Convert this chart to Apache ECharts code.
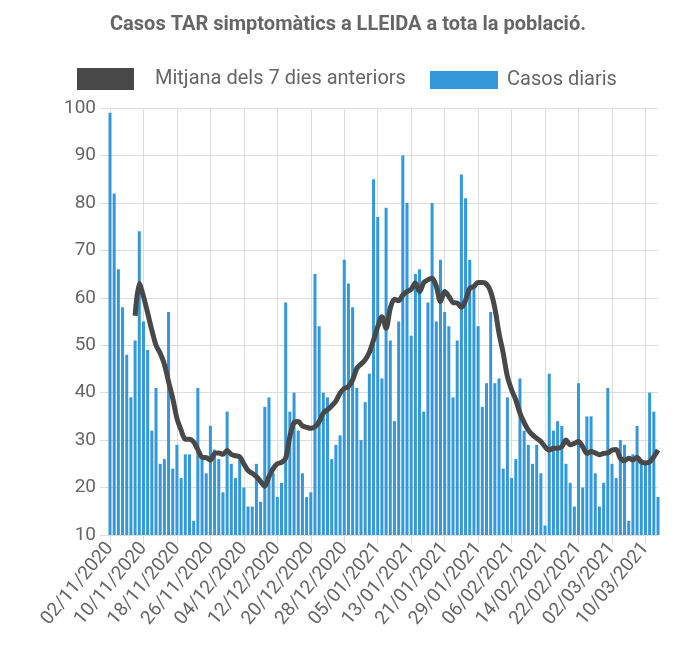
<!DOCTYPE html>
<html>
<head>
<meta charset="utf-8">
<script src="https://cdn.jsdelivr.net/npm/echarts@6/dist/echarts.min.js"></script>
<style>
html, body { margin: 0; padding: 0; background: #fff; }
#chart { width: 696px; height: 669px; }
</style>
</head>
<body>
<div id="chart"></div>
<script>
// primer dia de la serie i nombre de dies
const firstDay = '2020-11-02'
const dayCount = 132

// casos diaris (llegits del grafic)
const casosDiaris = [
  99, 82, 66, 58, 48, 39, 51, 74, 55, 49, 32, 41, 25, 26, 57, 24, 29, 22, 27, 27,
  13, 41, 26, 23, 33, 28, 26, 19, 36, 25, 22, 26, 20, 16, 16, 25, 17, 37, 39, 23,
  18, 21, 59, 36, 40, 32, 23, 18, 19, 65, 54, 40, 39, 26, 29, 31, 68, 63, 58, 41,
  30, 38, 44, 85, 77, 43, 79, 51, 34, 55, 90, 80, 52, 65, 66, 36, 59, 80, 55, 68,
  57, 54, 39, 51, 86, 81, 68, 62, 54, 37, 42, 57, 42, 43, 24, 39, 22, 26, 43, 32,
  29, 25, 29, 23, 12, 44, 32, 34, 33, 25, 21, 16, 42, 20, 35, 35, 23, 16, 21, 41,
  25, 22, 30, 29, 13, 27, 33, 26, 25, 40, 36, 18,
]

// mitjana dels 7 dies anteriors (llegida del grafic)
const mitjana7 = [
  null, null, null, null, null, null, 56.2, 63.0, 60.3, 56.8, 53.2, 50.0, 48.3, 46.0,
  42.3, 38.8, 34.6, 32.1, 30.2, 30.2, 29.6, 28.0, 26.4, 26.3, 25.8, 27.2, 27.3, 27.0,
  27.8, 27.0, 26.7, 26.5, 25.0, 23.6, 23.0, 22.3, 21.3, 20.3, 22.3, 24.0, 25.0, 25.3,
  26.2, 30.8, 33.7, 33.9, 33.0, 32.7, 32.5, 32.8, 33.9, 35.7, 36.4, 37.2, 38.2, 39.9,
  40.9, 41.3, 42.7, 45.1, 46.0, 46.9, 48.5, 51.1, 53.9, 56.0, 53.6, 57.8, 59.7, 59.4,
  60.6, 61.3, 61.8, 63.1, 61.3, 63.2, 63.8, 64.1, 62.4, 59.2, 61.3, 60.3, 59.0, 58.9,
  58.0, 59.5, 62.0, 62.4, 63.2, 63.2, 62.9, 61.3, 57.8, 52.5, 48.3, 43.4, 40.6, 38.5,
  35.7, 33.7, 32.1, 31.1, 30.4, 29.7, 28.6, 27.9, 28.3, 28.3, 28.6, 30.0, 29.0, 29.3,
  29.7, 28.6, 27.2, 27.6, 27.3, 26.9, 27.2, 27.3, 27.9, 28.0, 26.2, 25.7, 26.2, 25.8,
  26.4, 25.4, 25.2, 25.4, 26.5, 27.9,
]

const yMin = 10
const yMax = 100
const yStep = 10

function pad(n) {
  return n < 10 ? '0' + n : '' + n
}

const dies = []
const d0 = new Date(firstDay + 'T12:00:00')
for (let i = 0; i < dayCount; i++) {
  const d = new Date(d0.getTime() + i * 86400000)
  dies.push(pad(d.getDate()) + '/' + pad(d.getMonth() + 1) + '/' + d.getFullYear())
}

const grisText = '#666'
const gridColor = '#dddddd'

const chart = echarts.init(document.getElementById('chart'))
chart.setOption({
  animation: false,
  textStyle: {
    fontFamily: 'Roboto',
  },
  title: {
    text: 'Casos TAR simptomàtics a LLEIDA a tota la població.',
    left: 'center',
    top: 10,
    textStyle: {
      color: grisText,
      fontSize: 20,
      fontWeight: 'bold',
      fontFamily: 'Roboto',
    },
  },
  legend: [{
    left: 77,
    top: 68,
    padding: 0,
    data: ['Mitjana dels 7 dies anteriors'],
    icon: 'rect',
    itemWidth: 57,
    itemHeight: 22,
    textStyle: {
      color: grisText,
      fontSize: 20,
      padding: [0, 0, 0, 16],
    },
  }, {
    left: 430,
    top: 70,
    padding: 0,
    data: ['Casos diaris'],
    icon: 'rect',
    itemWidth: 68,
    itemHeight: 18,
    textStyle: {
      color: grisText,
      fontSize: 20,
      padding: [0, 0, 0, 4],
    },
  }],
  grid: {
    left: 110,
    right: 38,
    top: 108,
    bottom: 134,
  },
  xAxis: {
    type: 'category',
    data: dies,
    boundaryGap: false,
    axisLine: {
      show: false,
    },
    axisTick: {
      show: true,
      interval: 7,
      length: 9,
      lineStyle: { color: gridColor },
    },
    splitLine: {
      show: true,
      interval: 7,
      lineStyle: { color: gridColor },
    },
    axisLabel: {
      interval: 7,
      rotate: 50,
      color: grisText,
      fontSize: 19,
      margin: 10,
    },
  },
  yAxis: {
    type: 'value',
    min: yMin,
    max: yMax,
    interval: yStep,
    axisLine: {
      show: true,
      lineStyle: { color: gridColor },
    },
    axisTick: {
      show: true,
      length: 10,
      lineStyle: { color: gridColor },
    },
    splitLine: {
      lineStyle: { color: gridColor },
    },
    axisLabel: {
      color: grisText,
      fontSize: 19,
      margin: 14,
    },
  },
  series: [{
    name: 'Mitjana dels 7 dies anteriors',
    type: 'line',
    data: mitjana7,
    smooth: 0.3,
    showSymbol: false,
    z: 5,
    itemStyle: { color: '#484848' },
    lineStyle: {
      color: '#484848',
      width: 5,
    },
  }, {
    name: 'Casos diaris',
    type: 'bar',
    data: casosDiaris,
    barCategoryGap: '28%',
    clip: true,
    z: 2,
    itemStyle: {
      color: '#3498db',
    },
  }],
})
</script>
</body>
</html>
